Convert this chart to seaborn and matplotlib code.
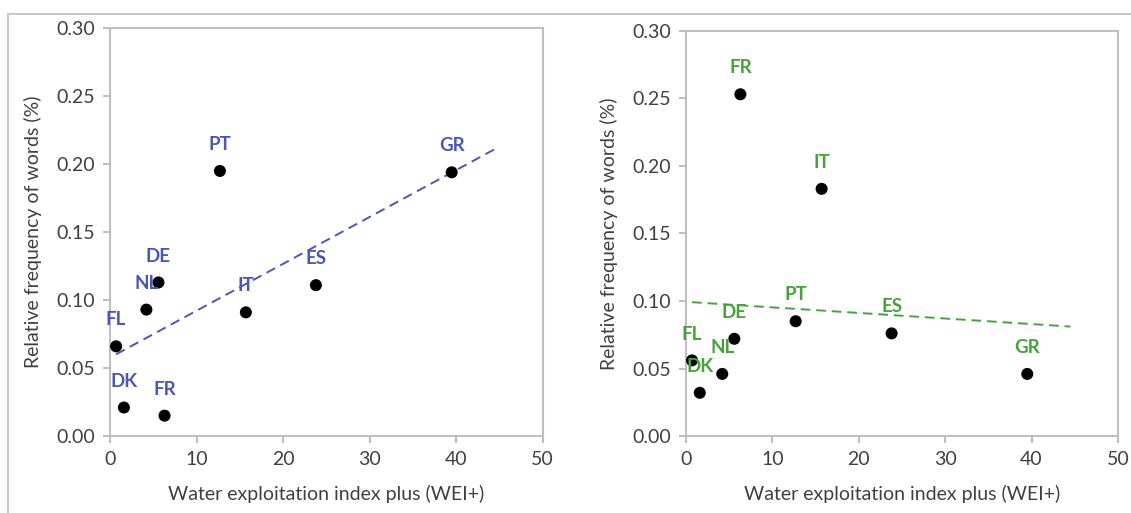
import numpy as np
import pandas as pd
import seaborn as sns
import matplotlib.pyplot as plt
from matplotlib.lines import Line2D

# data
countries = ['FL', 'DK', 'NL', 'DE', 'FR', 'PT', 'IT', 'ES', 'GR']
wei = [0.7, 1.6, 4.2, 5.6, 6.3, 12.7, 15.7, 23.8, 39.5]
freq_left = [0.066, 0.021, 0.093, 0.113, 0.015, 0.195, 0.091, 0.111, 0.194]
freq_right = [0.056, 0.032, 0.046, 0.072, 0.253, 0.085, 0.183, 0.076, 0.046]
trend_end = 44.5

blue = '#4A56B8'
green = '#45A33A'
gray = '#BFBFBF'
txt = '#404040'

sns.set_theme(style='white')
plt.rcParams['font.family'] = ['Lato', 'DejaVu Sans']

fig = plt.figure(figsize=(11.31, 5.13), dpi=100)
ax1 = fig.add_axes([0.0973, 0.150, 0.3824, 0.795])
ax2 = fig.add_axes([0.6065, 0.150, 0.3820, 0.790])

# frame round the figure
fig.add_artist(Line2D([8/1131, 1.0], [1-14/513, 1-14/513], transform=fig.transFigure, color='#C8C8C8', lw=1.5))
fig.add_artist(Line2D([8/1131, 8/1131], [0.0, 1-14/513], transform=fig.transFigure, color='#C8C8C8', lw=1.5))


def panel(ax, y, col):
    df = pd.DataFrame({'x': wei, 'y': y, 'c': countries})
    # linear trend from data
    k, b = np.polyfit(df['x'], df['y'], 1)
    xs = np.array([min(wei), trend_end])
    ax.plot(xs, k * xs + b, ls=(0, (5, 3)), color=col, lw=1.4, zorder=2)
    sns.scatterplot(data=df, x='x', y='y', ax=ax, color='black', s=75, edgecolor='none', zorder=3)
    for _, r in df.iterrows():
        ax.annotate(r['c'], (r['x'], r['y']), xytext=(0, 19), textcoords='offset points',
                    ha='center', va='center', color=col, fontsize=13.5, fontweight='bold', zorder=4)
    ax.set_xlim(0, 50)
    ax.set_ylim(0, 0.30)
    ax.set_xticks(range(0, 51, 10))
    ax.set_yticks(np.arange(0, 0.301, 0.05))
    ax.set_yticklabels(['%.2f' % v for v in np.arange(0, 0.301, 0.05)])
    ax.set_xlabel('Water exploitation index plus (WEI+)', fontsize=14, color=txt, labelpad=12)
    ax.set_ylabel('Relative frequency of words (%)', fontsize=14, color=txt, labelpad=10)
    ax.tick_params(axis='both', colors=gray, labelcolor=txt, labelsize=14, length=5, width=1.5,
                   direction='out', bottom=True, left=True, pad=6)
    for s in ax.spines.values():
        s.set_color(gray)
        s.set_linewidth(1.5)


panel(ax1, freq_left, blue)
panel(ax2, freq_right, green)

fig.savefig('out.png', dpi=100)
